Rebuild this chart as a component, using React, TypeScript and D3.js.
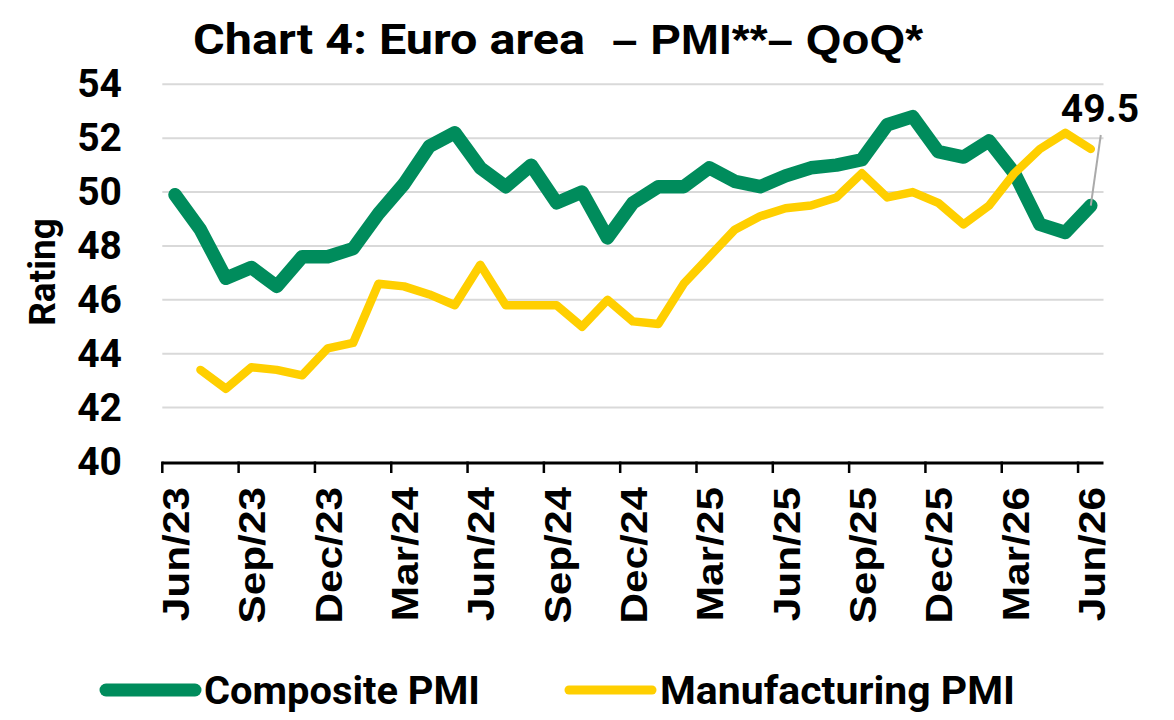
import React from "react";
import * as d3 from "d3";

const months = [
  "Jun/23", "Jul/23", "Aug/23", "Sep/23", "Oct/23", "Nov/23", "Dec/23",
  "Jan/24", "Feb/24", "Mar/24", "Apr/24", "May/24", "Jun/24", "Jul/24",
  "Aug/24", "Sep/24", "Oct/24", "Nov/24", "Dec/24", "Jan/25", "Feb/25",
  "Mar/25", "Apr/25", "May/25", "Jun/25", "Jul/25", "Aug/25", "Sep/25",
  "Oct/25", "Nov/25", "Dec/25", "Jan/26", "Feb/26", "Mar/26", "Apr/26",
  "May/26", "Jun/26",
];

const composite = [
  49.9, 48.6, 46.8, 47.2, 46.5, 47.6, 47.6, 47.9, 49.2, 50.3, 51.7, 52.2,
  50.9, 50.2, 51.0, 49.6, 50.0, 48.3, 49.6, 50.2, 50.2, 50.9, 50.4, 50.2,
  50.6, 50.9, 51.0, 51.2, 52.5, 52.8, 51.5, 51.3, 51.9, 50.7, 48.8, 48.5,
  49.5,
];

const manufacturing = [
  null, 43.4, 42.7, 43.5, 43.4, 43.2, 44.2, 44.4, 46.6, 46.5, 46.2, 45.8,
  47.3, 45.8, 45.8, 45.8, 45.0, 46.0, 45.2, 45.1, 46.6, 47.6, 48.6, 49.1,
  49.4, 49.5, 49.8, 50.7, 49.8, 50.0, 49.6, 48.8, 49.5, 50.7, 51.6, 52.2,
  51.6,
];

const yTicks = [40, 42, 44, 46, 48, 50, 52, 54];
const lastLabel = "49.5";

const GREEN = "#008c5c";
const YELLOW = "#ffcf00";

export default function App() {
  const W = 1174, H = 720;
  const left = 162.3, right = 1103.5, top = 84.3, bottom = 461.5;

  const x = d3.scaleBand<string>().domain(months).range([left, right]).paddingInner(0).paddingOuter(0);
  const bw = x.bandwidth();
  const cx = (m: string) => (x(m) as number) + bw / 2;
  const y = d3.scaleLinear().domain([40, 54]).range([bottom, top]);

  const line = d3.line<number | null>()
    .defined((d) => d != null)
    .x((_, i) => cx(months[i]))
    .y((d) => y(d as number));

  const tickMonths = months.filter((_, i) => i % 3 === 0);
  const last = months[months.length - 1];
  const lastVal = composite[composite.length - 1];

  return (
    <svg width={W} height={H} style={{ position: "absolute", left: 0, top: 0, display: "block" }}>
      <rect width={W} height={H} fill="#fff" />
      {/* title: two faces, stretched to the reference width */}
      <text x={193} y={54} fontSize={42} fontWeight={700} fill="#000" fontFamily="Roboto"
        textLength={392} lengthAdjust="spacingAndGlyphs">Chart 4: Euro area</text>
      <text x={612} y={54} fontSize={42} fontWeight={700} fill="#000" fontFamily="Liberation Sans"
        textLength={311} lengthAdjust="spacingAndGlyphs">– PMI**– QoQ*</text>

      {yTicks.filter((t) => t > 40).map((t) => (
        <line key={t} x1={left} x2={right} y1={y(t)} y2={y(t)} stroke="#d9d9d9" strokeWidth={2} />
      ))}
      {yTicks.map((t) => (
        <text key={t} x={122} y={y(t)} textAnchor="end" dominantBaseline="central"
          fontFamily="Roboto" fontWeight={700} fontSize={39} fill="#000">{t}</text>
      ))}
      <text transform={`translate(42,272) rotate(-90)`} textAnchor="middle" dominantBaseline="central"
        fontFamily="Roboto" fontWeight={700} fontSize={37} fill="#000">Rating</text>

      <line x1={left} x2={right} y1={bottom + 1.5} y2={bottom + 1.5} stroke="#000" strokeWidth={3} />
      {tickMonths.map((m) => (
        <g key={m}>
          <line x1={x(m) as number} x2={x(m) as number} y1={bottom} y2={bottom + 11.5} stroke="#000" strokeWidth={2.5} />
          <text transform={`translate(${cx(m) + 1},487) rotate(-90) scale(1.13,1)`} textAnchor="end" dominantBaseline="central"
            fontFamily="Liberation Sans" fontWeight={700} fontSize={37.5} fill="#000">{m}</text>
        </g>
      ))}

      <path d={line(composite) || ""} fill="none" stroke={GREEN} strokeWidth={13.5}
        strokeLinejoin="round" strokeLinecap="round" />
      <path d={line(manufacturing) || ""} fill="none" stroke={YELLOW} strokeWidth={8.5}
        strokeLinejoin="round" strokeLinecap="round" />

      <line x1={cx(last)} y1={y(lastVal)} x2={cx(last) + 10} y2={135} stroke="#aaaaaa" strokeWidth={2} />
      <text x={1100} y={121.5} textAnchor="middle" fontFamily="Roboto" fontWeight={700} fontSize={39} fill="#000">{lastLabel}</text>

      <line x1={106} x2={195} y1={690} y2={690} stroke={GREEN} strokeWidth={13} strokeLinecap="round" />
      <text x={204} y={704} fontFamily="Roboto" fontWeight={700} fontSize={39} fill="#000"
        textLength={276} lengthAdjust="spacingAndGlyphs">Composite PMI</text>
      <line x1={569} x2={652} y1={690} y2={690} stroke={YELLOW} strokeWidth={9} strokeLinecap="round" />
      <text x={660} y={704} fontFamily="Roboto" fontWeight={700} fontSize={39} fill="#000"
        textLength={355} lengthAdjust="spacingAndGlyphs">Manufacturing PMI</text>
    </svg>
  );
}
